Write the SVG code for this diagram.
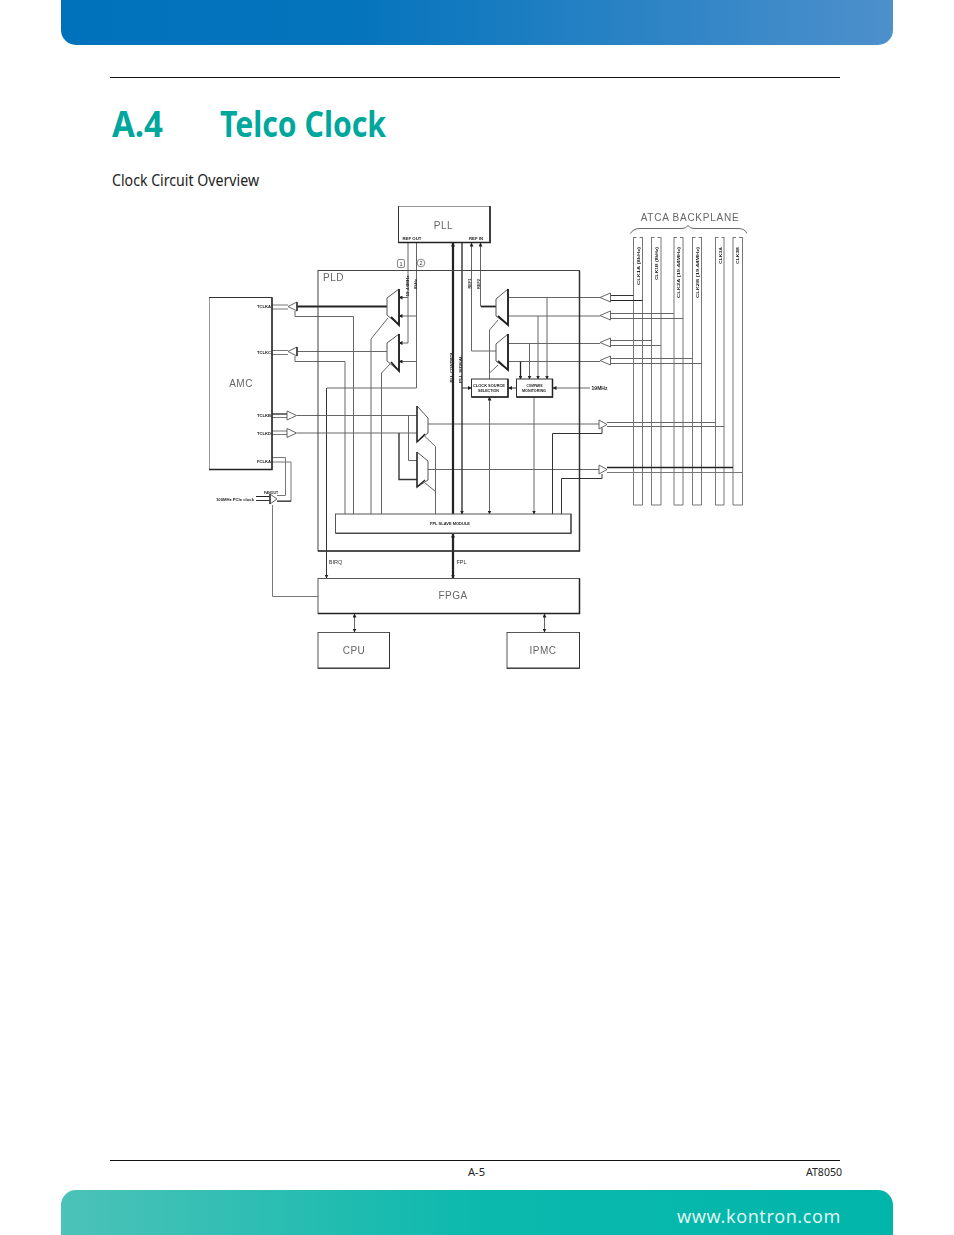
<svg xmlns="http://www.w3.org/2000/svg" width="954" height="1235" viewBox="0 0 954 1235">
<style>
text{font-family:"Liberation Sans",Arial,sans-serif;fill:#444}
.page{font-family:"Noto Sans","Liberation Sans",sans-serif}
.box{fill:#fff;stroke:#333;stroke-width:1}
.mux{fill:#fff;stroke:#555;stroke-width:1}
.edge{fill:none;stroke:#222;stroke-width:1.800}
.buf{fill:#fff;stroke:#555;stroke-width:.9}
.l{fill:none;stroke:#666;stroke-width:1}
.d{fill:none;stroke:#333;stroke-width:1}
.t{fill:none;stroke:#222;stroke-width:1.800}
.b{fill:none;stroke:#777;stroke-width:1}
.big{font-size:10px;letter-spacing:.5px;text-anchor:middle;fill:#666}
.s{font-size:4.200px;fill:#222;font-weight:bold;text-anchor:middle}
.m{font-size:5.500px;fill:#333;text-anchor:middle}
</style>
<defs>
<linearGradient id="hg" x1="0" y1="0" x2="1" y2="0"><stop offset="0" stop-color="#0072bc"/><stop offset=".35" stop-color="#0474bc"/><stop offset="1" stop-color="#4d90cc"/></linearGradient>
<linearGradient id="fg" x1="0" y1="0" x2="1" y2="0"><stop offset="0" stop-color="#4cc2b8"/><stop offset=".5" stop-color="#0cb9ad"/><stop offset="1" stop-color="#00b5aa"/></linearGradient>
<marker id="a" markerWidth="4" markerHeight="4" refX="3.500" refY="2" orient="auto-start-reverse" markerUnits="userSpaceOnUse"><path d="M0 0L4 2L0 4Z" fill="#222"/></marker>
<filter id="soft" x="0" y="0" width="1" height="1"><feGaussianBlur stdDeviation=".35"/></filter>
</defs>

<g id="page">
<path d="M61 0H893V30A15 15 0 0 1 878 45H76A15 15 0 0 1 61 30Z" fill="url(#hg)"/>
<path d="M76 1190H878A15 15 0 0 1 893 1205V1235H61V1205A15 15 0 0 1 76 1190Z" fill="url(#fg)"/>
<rect x="110" y="77" width="730" height="1" fill="#111"/>
<rect x="110" y="1160" width="730" height="1" fill="#111"/>
<text class="page" x="112" y="137" font-size="35" font-weight="700" style="fill:#00a79d" textLength="51" lengthAdjust="spacingAndGlyphs">A.4</text>
<text class="page" x="220" y="137" font-size="35" font-weight="700" style="fill:#00a79d" textLength="166" lengthAdjust="spacingAndGlyphs">Telco Clock</text>
<text class="page" x="112" y="186" font-size="16.500" style="fill:#222" textLength="147" lengthAdjust="spacingAndGlyphs">Clock Circuit Overview</text>
<text class="page" x="468" y="1176" font-size="11" style="fill:#222" textLength="17" lengthAdjust="spacingAndGlyphs">A-5</text>
<text class="page" x="806" y="1176" font-size="11" style="fill:#222" textLength="36" lengthAdjust="spacingAndGlyphs">AT8050</text>
<text class="page" x="677" y="1223" font-size="18" style="fill:#dff5f2;letter-spacing:.6px">www.kontron.com</text>
</g>

<g id="diagram" filter="url(#soft)">
<g id="connectors">
<path class="b" d="M633.500 237V505H642.500V237M651.500 237V505H661V237M674 237V505H683V237M692.500 237V505H701.500V237M715.500 237V505H724V237M733 237V505H742.500V237"/>
<path class="b" d="M633.500 237.500H642.500M651.500 237.500H661M674 237.500H683M692.500 237.500H701.500M715.500 237.500H724M733 237.500H742.500" stroke-dasharray="3 3"/>
<path class="l" d="M630.500 233.500Q633 228.500 640 228.500H682Q686 228.500 688 225.500Q690 228.500 694 228.500H738Q745 228.500 747 233.500"/>
<path class="d" d="M610 295.500H633.500"/><path class="t" d="M610 300.500H642.500" style="stroke-width:1.200"/>
<path class="l" d="M610 313.500H674M610 318.500H683M610 340.500H652M610 345.500H661M610 358.500H693M610 363.500H702"/>
<path class="l" d="M508 297.500H600M508 316H600M508 343.500H600M508 361.500H600"/>
<path class="l" d="M607 422.500H715.500M607 426.500H724"/>
<path class="t" d="M607 467.500H733" style="stroke-width:1.300"/>
<path class="b" d="M607 472.500H743"/>
<path class="l" d="M428 424H599M428 469.500H599"/>
<path class="d" d="M552.500 514V433.500H602V428"/>
<path class="d" d="M561.500 514V478.500H602V474"/>
<path class="l" d="M408 242V343H399" marker-end="url(#a)"/>
<path class="l" d="M408 297.500H399" marker-end="url(#a)"/>
<path class="l" d="M416.500 242V388H327"/>
<path class="l" d="M416.500 316H399" marker-end="url(#a)"/>
<path class="l" d="M416.500 361.500H399" marker-end="url(#a)"/>
<path class="d" d="M326.500 388V578" marker-end="url(#a)"/>
<path class="l" d="M496 351H471.500V243" marker-end="url(#a)"/>
<path class="t" d="M496 306.500H481"/>
<path class="l" d="M480.500 306.500V243" marker-end="url(#a)"/>
<path class="t" d="M453 514V243" marker-end="url(#a)" style="stroke-width:2.200"/>
<path class="d" d="M462 243V514" marker-end="url(#a)" style="stroke-width:1.400"/>
<path class="t" d="M453 578V534" marker-end="url(#a)" marker-start="url(#a)" style="stroke-width:2.200"/>
<path class="l" d="M354.500 614V632" marker-end="url(#a)" marker-start="url(#a)"/>
<path class="l" d="M544.500 614V632" marker-end="url(#a)" marker-start="url(#a)"/>
<path class="t" d="M297 306.500H387"/>
<path class="l" d="M297 351.500H387"/>
<path class="b" d="M272 305H288M272 309H288M272 350.500H288M272 354.500H288"/>
<path class="l" d="M295 311V316.500H353.500V514M295 356V361.500H345V514"/>
<path class="l" d="M371 514V339L388 318M381.500 514V373L390 364"/>
<path class="t" d="M272 414H287" style="stroke-width:1.300"/><path class="b" d="M272 417.500H287M272 431H287M272 434.500H287"/>
<path class="l" d="M297 415.500H417M297 433H417"/>
<path class="l" d="M408.500 415.500V460.500H417"/>
<path class="d" d="M399 433V479.500H417" style="stroke-width:1.400"/>
<path class="l" d="M435.500 514V446.500L425 436.500M435.500 491.500L425 483"/>
<path class="l" d="M489.500 379V330L498 320M489.500 373L498 365"/>
<path class="t" d="M520.500 361.500V379" style="stroke-width:1.300" marker-end="url(#a)"/>
<path class="l" d="M529.500 344V379" marker-end="url(#a)"/>
<path class="l" d="M538 316V379" marker-end="url(#a)"/>
<path class="l" d="M547 298V379" marker-end="url(#a)"/>
<path class="l" d="M590 388H553" marker-end="url(#a)"/>
<path class="d" d="M516.500 388H508.500" marker-end="url(#a)"/>
<path class="d" d="M462 388H471.500" marker-end="url(#a)"/>
<path class="l" d="M489.500 514V397" marker-end="url(#a)" marker-start="url(#a)"/>
<path class="l" d="M534 397V514" marker-end="url(#a)"/>
<path class="b" d="M272 457.500H285.500V495.500H277M272 462H291V501.500H277"/>
<path class="t" d="M256 496.500H270M277 501H291" style="stroke-width:1.100"/>
<path class="d" d="M256 500.500H270"/>
<path class="b" d="M272.500 505V596.500H318"/>
</g>

<g id="pld"><rect x="318" y="270.500" width="261.500" height="280.500" fill="none" stroke="#444" stroke-width="1"/><path d="M318 551H579.500V271" class="edge" style="stroke-width:1.500;stroke:#333"/><text class="big" x="333.500" y="281">PLD</text></g>

<g id="pll"><rect class="box" x="398.500" y="206" width="91.500" height="36.500"/><path class="edge" d="M398.500 242.500H490V206" style="stroke-width:1.500"/><text class="big" x="443.500" y="229">PLL</text><text class="s" x="412" y="240" textLength="19" lengthAdjust="spacingAndGlyphs">REF OUT</text><text class="s" x="476" y="240" textLength="14" lengthAdjust="spacingAndGlyphs">REF IN</text></g>
<g id="mark1"><rect x="397.500" y="259.500" width="7" height="8" rx="1.500" fill="#fff" stroke="#555" stroke-width=".7"/><text class="m" x="401" y="265.500">1</text></g>
<g id="mark2"><circle cx="421" cy="263" r="3.800" fill="#fff" stroke="#555" stroke-width=".7"/><text class="m" x="421" y="265">2</text></g>

<g id="amc"><rect class="box" x="209" y="297.500" width="63" height="172"/><path class="edge" d="M209 469.500H272V297.500" style="stroke-width:1.300"/><text class="big" x="241" y="387">AMC</text>
<text class="s" x="264" y="308">TCLKA</text><text class="s" x="264" y="353.500">TCLKC</text><text class="s" x="264" y="417">TCLKB</text><text class="s" x="264" y="435">TCLKD</text><text class="s" x="264" y="462.500">FCLKA</text></g>

<g id="tx-a"><path class="buf" d="M297 302V311L288 306.500Z"/><path class="d" d="M297 302V311" style="stroke-width:1.500"/></g>
<g id="tx-c"><path class="buf" d="M297 347V356L288 351.500Z"/><path class="d" d="M297 347V356" style="stroke-width:1.500"/></g>
<g id="rx-b"><path class="buf" d="M287 411V420L296.500 415.500Z"/></g>
<g id="rx-d"><path class="buf" d="M287 428.500V437.500L296.500 433Z"/></g>
<g id="fanout"><path class="buf" d="M270 494V504L277 499Z"/><path class="d" d="M270 494V504" style="stroke-width:1.400"/><text class="s" x="271" y="493.500" textLength="14" lengthAdjust="spacingAndGlyphs">FANOUT</text><text class="s" x="235" y="500.500" textLength="38" lengthAdjust="spacingAndGlyphs">100MHz PCIe clock</text></g>

<g id="mux-l1"><path class="mux" d="M387 298L399 289V325L387 315Z"/><path class="edge" d="M399 289V325L391 317"/></g>
<g id="mux-l2"><path class="mux" d="M387 343L399 334V371L387 361Z"/><path class="edge" d="M399 334V371L391 362"/></g>
<g id="mux-r1"><path class="mux" d="M496 299L508 289V325L496 316Z"/><path class="edge" d="M508 289V325L498 316"/></g>
<g id="mux-r2"><path class="mux" d="M496 344L508 334V370L496 361Z"/><path class="edge" d="M508 334V370L498 361"/></g>
<g id="mux-c1"><path class="mux" d="M417 406L428 418V433L417 442Z"/><path class="edge" d="M417 406V442L425 434" style="stroke-width:1.300"/></g>
<g id="mux-c2"><path class="mux" d="M417 452L428 461V480L417 487Z"/><path class="edge" d="M417 452V487L425 480" style="stroke-width:1.300"/></g>

<g id="clock-select"><rect class="box" x="471.500" y="379" width="36.500" height="18"/><path class="edge" d="M471.500 397H508V379" style="stroke-width:1.500"/><text class="s" x="489" y="386.500" textLength="32" lengthAdjust="spacingAndGlyphs">CLOCK SOURCE</text><text class="s" x="488.500" y="392" textLength="21" lengthAdjust="spacingAndGlyphs">SELECTION</text></g>
<g id="compare"><rect class="box" x="516.500" y="379" width="36" height="18"/><path class="edge" d="M516.500 397H552.500V379" style="stroke-width:1.500"/><text class="s" x="534.500" y="386.500" textLength="16" lengthAdjust="spacingAndGlyphs">COMPARE</text><text class="s" x="534" y="392" textLength="24" lengthAdjust="spacingAndGlyphs">MONITORING</text></g>
<g id="fpl-slave"><rect class="box" x="335.500" y="514" width="235.500" height="19" stroke-width=".8" style="stroke:#555"/><path class="edge" d="M335.500 533.500H571V514" style="stroke-width:1.200;stroke:#444"/><text class="s" x="450" y="525" textLength="40" lengthAdjust="spacingAndGlyphs">FPL SLAVE MODULE</text></g>
<g id="fpga"><rect class="box" x="318" y="578.500" width="261.500" height="35" style="stroke:#555"/><path class="edge" d="M318 613.500H579.500V578.500" style="stroke-width:1.500"/><text class="big" x="453" y="599">FPGA</text></g>
<g id="cpu"><rect class="box" x="318" y="632.500" width="71.500" height="36" style="stroke:#555"/><path class="edge" d="M318 668H389.500V632" style="stroke-width:1;stroke:#333"/><text class="big" x="354" y="654">CPU</text></g>
<g id="ipmc"><rect class="box" x="507" y="632.500" width="72.500" height="36" style="stroke:#555"/><path class="edge" d="M507 668H579.500V632" style="stroke-width:1;stroke:#333"/><text class="big" x="543" y="654">IPMC</text></g>

<g id="rx-1"><path class="buf" d="M600 297.500L610.500 293V302Z"/></g>
<g id="rx-2"><path class="buf" d="M600 315.500L610.500 311V320Z"/></g>
<g id="rx-3"><path class="buf" d="M600 342.500L610.500 338V347Z"/></g>
<g id="rx-4"><path class="buf" d="M600 360.500L610.500 356V365Z"/></g>
<g id="tx-1"><path class="buf" d="M599 420V429L607 424.500Z"/></g>
<g id="tx-2"><path class="buf" d="M599 465V474L607 469.500Z"/></g>

<g id="labels">
<text class="big" x="690" y="221" style="letter-spacing:.75px">ATCA BACKPLANE</text>
<text class="s" x="599.500" y="389.500" style="font-size:5px">19MHz</text>
<text class="m" x="335.500" y="564">BIRQ</text>
<text class="m" x="461.500" y="564">FPL</text>
<text class="s" transform="translate(408.500 286) rotate(-90)" textLength="21" lengthAdjust="spacingAndGlyphs">19.44MHz</text>
<text class="s" transform="translate(416.500 284) rotate(-90)" textLength="10" lengthAdjust="spacingAndGlyphs">8kHz</text>
<text class="s" transform="translate(471 283.500) rotate(-90)" textLength="10" lengthAdjust="spacingAndGlyphs">REF1</text>
<text class="s" transform="translate(480 284) rotate(-90)" textLength="10" lengthAdjust="spacingAndGlyphs">REF2</text>
<text class="s" transform="translate(452.500 367) rotate(-90)" textLength="31" lengthAdjust="spacingAndGlyphs">PLL CONTROL</text>
<text class="s" transform="translate(461.500 369) rotate(-90)" textLength="28" lengthAdjust="spacingAndGlyphs">PLL SIGNAL</text>
<text class="s" transform="translate(640 266) rotate(-90)" textLength="38" lengthAdjust="spacingAndGlyphs">CLK1A (8kHz)</text>
<text class="s" transform="translate(658 263.500) rotate(-90)" textLength="33" lengthAdjust="spacingAndGlyphs">CLK1B (8kHz)</text>
<text class="s" transform="translate(680 272.500) rotate(-90)" textLength="51" lengthAdjust="spacingAndGlyphs">CLK2A (19.44MHz)</text>
<text class="s" transform="translate(699 272.500) rotate(-90)" textLength="51" lengthAdjust="spacingAndGlyphs">CLK2B (19.44MHz)</text>
<text class="s" transform="translate(721.500 255.500) rotate(-90)" textLength="17" lengthAdjust="spacingAndGlyphs">CLK3A</text>
<text class="s" transform="translate(739 255.500) rotate(-90)" textLength="17" lengthAdjust="spacingAndGlyphs">CLK3B</text>
</g>
</g>
</svg>
